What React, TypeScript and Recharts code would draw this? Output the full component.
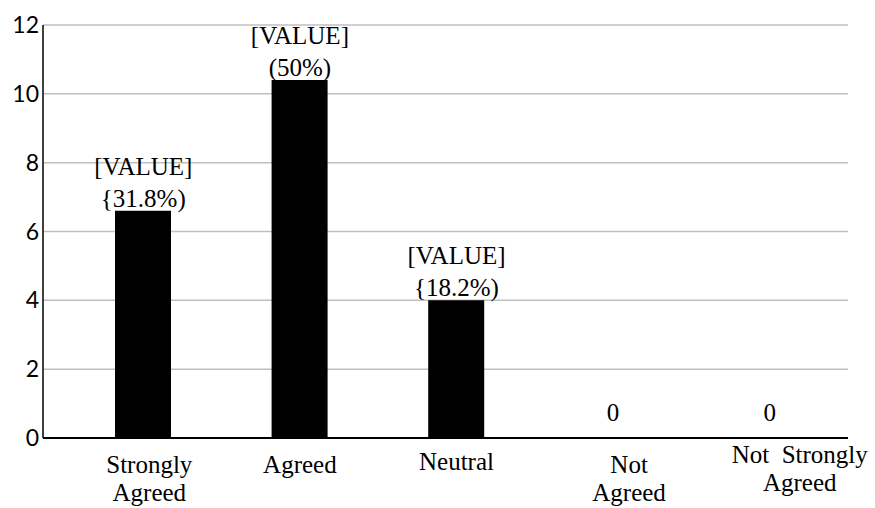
import React from 'react';
import { ComposedChart, Bar, Line, XAxis, YAxis, CartesianGrid, LabelList } from 'recharts';

const categories = ['Strongly Agreed', 'Agreed', 'Neutral', 'Not Agreed', 'Not Strongly Agreed'];
const categoryLines = [['Strongly', 'Agreed'], ['Agreed'], ['Neutral'], ['Not', 'Agreed'], ['Not  Strongly', 'Agreed']];
const values = [6.6, 10.4, 4.0, 0, 0];
const labelTop = ['[VALUE]', '[VALUE]', '[VALUE]', '', ''];
const labelBottom = ['{31.8%)', '(50%)', '{18.2%)', '0', '0'];
const yTicks = [0, 2, 4, 6, 8, 10, 12];

const data = categories.map((c, i) => ({ category: c, value: values[i] }));

const SERIF = "'Liberation Serif', 'Times New Roman', Times, serif";
const SANS = 'Lato';

// small per-tick nudges of the wrapped category labels (styling only)
const TICK_DX = [6, 0, 0, 16, 30];
const TICK_DY = [0, 0, -3, 0, -10];

const serifStyle: React.CSSProperties = { fontFamily: SERIF, fontSize: 25, whiteSpace: 'pre' };

const XTick = (props: any) => {
  const { x, y, index } = props;
  const lines = categoryLines[index] || [];
  const dx = TICK_DX[index] || 0;
  const dy = TICK_DY[index] || 0;
  return (
    <g>
      {lines.map((l, i) => (
        <text key={i} x={x + dx} y={y + 35 + dy + i * 28} textAnchor="middle" fill="#000" style={serifStyle}>
          {l}
        </text>
      ))}
    </g>
  );
};

const ValueLabel = (props: any) => {
  const { x, y, index } = props;
  const top = labelTop[index];
  const bottom = labelBottom[index];
  if (!top) {
    return (
      <text x={x} y={y - 17} textAnchor="middle" fill="#000" style={serifStyle}>
        {bottom}
      </text>
    );
  }
  return (
    <g>
      <text x={x} y={y - 36} textAnchor="middle" fill="#000" style={serifStyle}>
        {top}
      </text>
      <text x={x} y={y - 4} textAnchor="middle" fill="#000" style={serifStyle}>
        {bottom}
      </text>
    </g>
  );
};

export default function App() {
  return (
    <div style={{ position: 'absolute', left: 0, top: 0, background: '#fff' }}>
      <ComposedChart
        width={875}
        height={508}
        data={data}
        margin={{ top: 25, right: 27, bottom: 0, left: 0 }}
        barCategoryGap={0}
      >
        <CartesianGrid vertical={false} stroke="#bfbfbf" strokeWidth={1.5} />
        <XAxis
          dataKey="category"
          height={70}
          tickLine={false}
          tickSize={0}
          tickMargin={0}
          interval={0}
          padding={{ left: 22, right: 0 }}
          axisLine={{ stroke: '#000', strokeWidth: 2 }}
          tick={<XTick />}
        />
        <YAxis
          width={43}
          domain={[0, 12]}
          ticks={yTicks}
          tickLine={false}
          tickSize={0}
          tickMargin={4}
          axisLine={{ stroke: '#000', strokeWidth: 1.5 }}
          tick={{ fontFamily: SANS, fontSize: 23, fill: '#000' }}
        />
        <Bar dataKey="value" fill="#000" barSize={56} isAnimationActive={false} />
        <Line
          dataKey="value"
          stroke="none"
          dot={false}
          activeDot={false}
          legendType="none"
          isAnimationActive={false}
        >
          <LabelList dataKey="value" content={<ValueLabel />} />
        </Line>
      </ComposedChart>
    </div>
  );
}
